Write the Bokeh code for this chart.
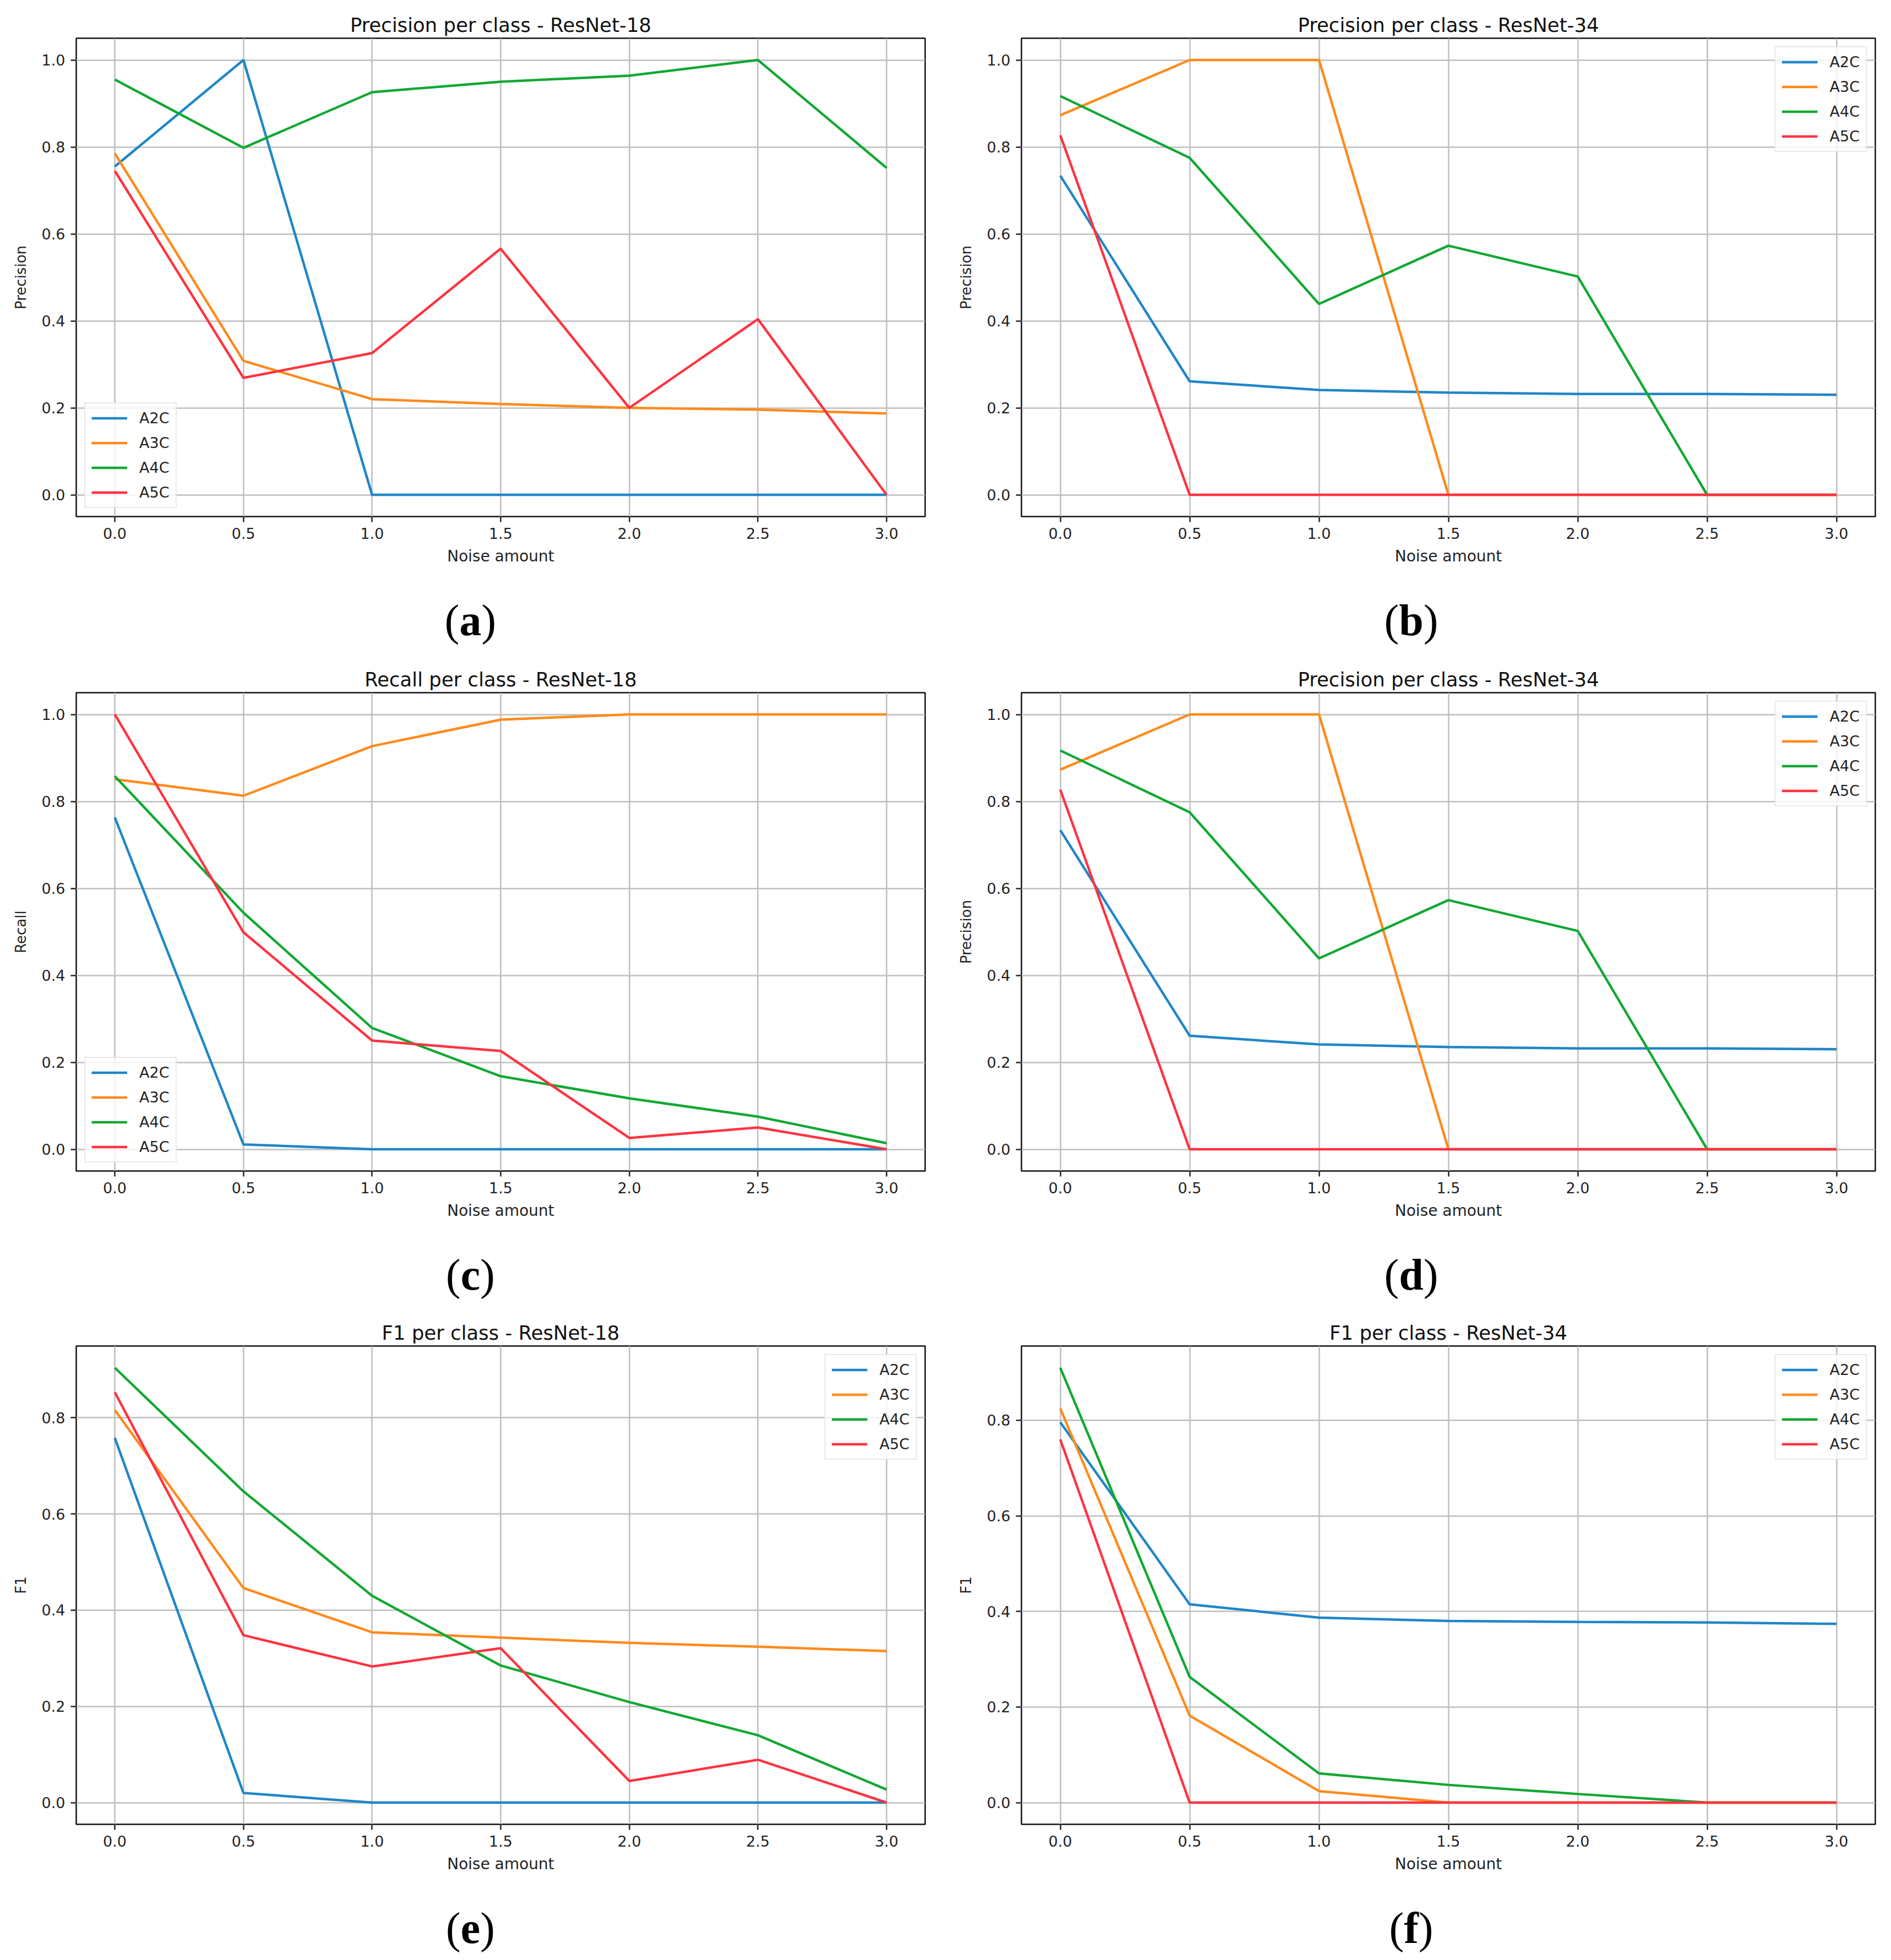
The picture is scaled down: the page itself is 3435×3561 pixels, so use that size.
from bokeh.plotting import figure
from bokeh.layouts import column, row
from bokeh.models import Range1d, FixedTicker, PrintfTickFormatter, Div
from bokeh.embed import file_html
from bokeh.resources import INLINE

# data
noise = [0.0, 0.5, 1.0, 1.5, 2.0, 2.5, 3.0]
classes = ["A2C", "A3C", "A4C", "A5C"]
colors = ["#1f86c8", "#ff8a1c", "#12a832", "#ff3340"]

prec18_a2c = [0.755, 1.0, 0.0, 0.0, 0.0, 0.0, 0.0]
prec18_a3c = [0.785, 0.308, 0.220, 0.209, 0.200, 0.196, 0.187]
prec18_a4c = [0.955, 0.798, 0.926, 0.950, 0.964, 1.0, 0.752]
prec18_a5c = [0.745, 0.269, 0.326, 0.566, 0.200, 0.404, 0.0]

prec34_a2c = [0.734, 0.261, 0.241, 0.235, 0.232, 0.232, 0.230]
prec34_a3c = [0.873, 1.0, 1.0, 0.0, 0.0, 0.0, 0.0]
prec34_a4c = [0.917, 0.775, 0.439, 0.573, 0.502, 0.0, 0.0]
prec34_a5c = [0.827, 0.0, 0.0, 0.0, 0.0, 0.0, 0.0]

rec18_a2c = [0.763, 0.011, 0.0, 0.0, 0.0, 0.0, 0.0]
rec18_a3c = [0.851, 0.813, 0.927, 0.988, 1.0, 1.0, 1.0]
rec18_a4c = [0.858, 0.544, 0.279, 0.168, 0.117, 0.075, 0.014]
rec18_a5c = [1.0, 0.499, 0.250, 0.226, 0.026, 0.050, 0.0]

f1_18_a2c = [0.758, 0.020, 0.0, 0.0, 0.0, 0.0, 0.0]
f1_18_a3c = [0.816, 0.446, 0.354, 0.343, 0.332, 0.324, 0.315]
f1_18_a4c = [0.904, 0.647, 0.430, 0.285, 0.209, 0.140, 0.027]
f1_18_a5c = [0.853, 0.348, 0.283, 0.321, 0.045, 0.089, 0.0]

f1_34_a2c = [0.796, 0.415, 0.387, 0.380, 0.378, 0.377, 0.374]
f1_34_a3c = [0.825, 0.182, 0.024, 0.0, 0.0, 0.0, 0.0]
f1_34_a4c = [0.910, 0.263, 0.061, 0.037, 0.018, 0.0, 0.0]
f1_34_a5c = [0.760, 0.0, 0.0, 0.0, 0.0, 0.0, 0.0]

x_ticks = [0.0, 0.5, 1.0, 1.5, 2.0, 2.5, 3.0]
y_ticks_full = [0.0, 0.2, 0.4, 0.6, 0.8, 1.0]
y_ticks_f1 = [0.0, 0.2, 0.4, 0.6, 0.8]

FONT = "DejaVu Sans"
W, H = 1709, 1181
FRAME_H = 869
BOTTOM = 130


def panel(title, ylabel, series, yticks, legend_loc, caption, col, rw):
    left = [138, 146][col]
    right = [29, 12][col]
    top = [69, 77, 83][rw]
    fig_h = top + FRAME_H + BOTTOM

    allv = [v for s in series for v in s]
    lo, hi = min(allv), max(allv)
    pad = 0.05 * (hi - lo)

    p = figure(width=W, height=fig_h, output_backend="svg", toolbar_location=None,
               x_range=Range1d(-0.15, 3.15), y_range=Range1d(lo - pad, hi + pad),
               min_border_left=left, min_border_right=right,
               min_border_top=top, min_border_bottom=BOTTOM)

    for name, vals, c in zip(classes, series, colors):
        p.line(noise, vals, line_color=c, line_width=4.5, legend_label=name)

    p.title.text = title
    p.title.align = "center"
    p.title.text_font = FONT
    p.title.text_font_size = "35.5px"
    p.title.text_font_style = "normal"
    p.title.text_color = "#111111"
    p.title.standoff = 8

    p.xaxis.ticker = FixedTicker(ticks=x_ticks)
    p.yaxis.ticker = FixedTicker(ticks=yticks)
    p.xaxis.formatter = PrintfTickFormatter(format="%.1f")
    p.yaxis.formatter = PrintfTickFormatter(format="%.1f")
    p.xaxis.axis_label = "Noise amount"
    p.yaxis.axis_label = ylabel

    for ax in (p.xaxis, p.yaxis):
        ax.axis_line_color = None
        ax.major_tick_line_color = "#222222"
        ax.major_tick_line_width = 2.5
        ax.major_tick_out = 10
        ax.major_tick_in = 0
        ax.minor_tick_line_color = None
        ax.major_label_text_font = FONT
        ax.major_label_text_font_size = "27px"
        ax.major_label_text_color = "#222222"
        ax.major_label_standoff = 10
        ax.axis_label_text_font = FONT
        ax.axis_label_text_font_size = "28px"
        ax.axis_label_text_font_style = "normal"
        ax.axis_label_text_color = "#222222"
    p.xaxis.axis_label_standoff = 12
    p.yaxis.axis_label_standoff = 20
    p.yaxis.axis_label_text_font_size = "26px"

    p.xgrid.grid_line_color = "#bebebe"
    p.ygrid.grid_line_color = "#bebebe"
    p.xgrid.grid_line_width = 2.5
    p.ygrid.grid_line_width = 2.5

    p.outline_line_color = "#111111"
    p.outline_line_width = 2.5

    lg = p.legend[0]
    lg.location = legend_loc
    lg.margin = 15
    lg.padding = 11
    lg.spacing = 14
    lg.glyph_width = 65
    lg.glyph_height = 27
    lg.label_height = 27
    lg.label_standoff = 22
    lg.label_text_font = FONT
    lg.label_text_font_size = "27px"
    lg.label_text_color = "#222222"
    lg.border_line_color = "#d4d4d4"
    lg.border_line_width = 2
    lg.background_fill_alpha = 0.8

    # caption under each panel: plain parentheses, bold letter
    shift = [0, 28][col]
    cap = Div(text='<div style="width:%dpx;padding-top:19px;padding-left:%dpx;line-height:80px;'
                   'text-align:center;font-family:\'Liberation Serif\',serif;'
                   'font-size:80px;color:#000;">(<b>%s</b>)</div>' % (W - shift, shift, caption),
              width=W, height=H - fig_h, margin=0)
    return column(p, cap, spacing=0)


pa = panel("Precision per class - ResNet-18", "Precision",
           [prec18_a2c, prec18_a3c, prec18_a4c, prec18_a5c],
           y_ticks_full, "bottom_left", "a", 0, 0)
pb = panel("Precision per class - ResNet-34", "Precision",
           [prec34_a2c, prec34_a3c, prec34_a4c, prec34_a5c],
           y_ticks_full, "top_right", "b", 1, 0)
pc = panel("Recall per class - ResNet-18", "Recall",
           [rec18_a2c, rec18_a3c, rec18_a4c, rec18_a5c],
           y_ticks_full, "bottom_left", "c", 0, 1)
pd = panel("Precision per class - ResNet-34", "Precision",
           [prec34_a2c, prec34_a3c, prec34_a4c, prec34_a5c],
           y_ticks_full, "top_right", "d", 1, 1)
pe = panel("F1 per class - ResNet-18", "F1",
           [f1_18_a2c, f1_18_a3c, f1_18_a4c, f1_18_a5c],
           y_ticks_f1, "top_right", "e", 0, 2)
pf = panel("F1 per class - ResNet-34", "F1",
           [f1_34_a2c, f1_34_a3c, f1_34_a4c, f1_34_a5c],
           y_ticks_f1, "top_right", "f", 1, 2)

p = column(row(pa, pb, spacing=0), row(pc, pd, spacing=0), row(pe, pf, spacing=0), spacing=0)

open("out.html", "w").write(file_html(p, INLINE))
